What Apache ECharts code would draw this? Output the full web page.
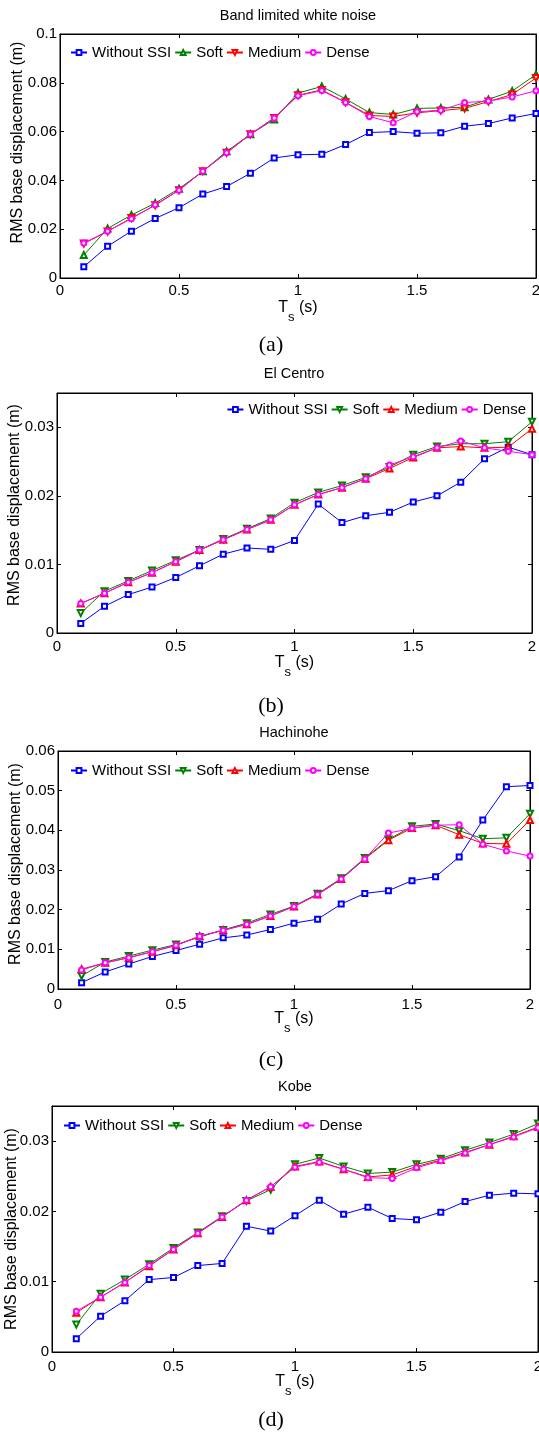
<!DOCTYPE html>
<html>
<head>
<meta charset="utf-8">
<script src="https://cdn.jsdelivr.net/npm/echarts@6/dist/echarts.min.js"></script>
<style>
html,body{margin:0;padding:0;background:#fff;}
#chart{width:539px;height:1436px;}
</style>
</head>
<body>
<div id="chart"></div>
<script>
// ---- data ----
const periods = [0.1,0.2,0.3,0.4,0.5,0.6,0.7,0.8,0.9,1.0,1.1,1.2,1.3,1.4,1.5,1.6,1.7,1.8,1.9,2.0];
const seriesNames = ['Without SSI','Soft','Medium','Dense'];
const panelTitles = ['Band limited white noise','El Centro','Hachinohe','Kobe'];
const panelLabels = ['(a)','(b)','(c)','(d)'];
const xTicks = [0,0.5,1,1.5,2];

const A_blue   = [0.0046,0.0130,0.0192,0.0244,0.0288,0.0344,0.0375,0.0429,0.0492,0.0505,0.0507,0.0547,0.0596,0.0600,0.0593,0.0595,0.0622,0.0633,0.0656,0.0674];
const A_soft   = [0.0094,0.0203,0.0258,0.0307,0.0366,0.0437,0.0519,0.0589,0.0650,0.0758,0.0785,0.0734,0.0678,0.0670,0.0695,0.0697,0.0700,0.0732,0.0766,0.0834];
const A_medium = [0.0141,0.0191,0.0246,0.0298,0.0360,0.0438,0.0513,0.0589,0.0656,0.0749,0.0771,0.0720,0.0666,0.0662,0.0677,0.0686,0.0695,0.0723,0.0752,0.0820];
const A_dense  = [0.0143,0.0192,0.0243,0.0300,0.0360,0.0438,0.0513,0.0589,0.0656,0.0747,0.0768,0.0719,0.0662,0.0636,0.0681,0.0688,0.0719,0.0725,0.0742,0.0767];

const B_blue   = [0.0014,0.0039,0.0056,0.0067,0.0081,0.0098,0.0115,0.0124,0.0122,0.0135,0.0188,0.0161,0.0171,0.0176,0.0191,0.0200,0.0220,0.0254,0.0271,0.0260];
const B_soft   = [0.0029,0.0061,0.0076,0.0091,0.0106,0.0121,0.0137,0.0152,0.0167,0.0190,0.0205,0.0215,0.0227,0.0242,0.0260,0.0272,0.0276,0.0276,0.0279,0.0308];
const B_medium = [0.0043,0.0058,0.0074,0.0088,0.0104,0.0121,0.0136,0.0151,0.0165,0.0187,0.0202,0.0212,0.0225,0.0240,0.0256,0.0270,0.0272,0.0270,0.0271,0.0298];
const B_dense  = [0.0043,0.0058,0.0074,0.0088,0.0104,0.0121,0.0136,0.0151,0.0165,0.0187,0.0202,0.0212,0.0225,0.0245,0.0257,0.0270,0.0280,0.0270,0.0265,0.0260];

const C_blue   = [0.0016,0.0043,0.0063,0.0082,0.0097,0.0113,0.0129,0.0136,0.0150,0.0166,0.0176,0.0214,0.0241,0.0248,0.0273,0.0283,0.0333,0.0426,0.0510,0.0513];
const C_soft   = [0.0033,0.0068,0.0083,0.0098,0.0112,0.0131,0.0149,0.0166,0.0188,0.0209,0.0240,0.0279,0.0330,0.0377,0.0410,0.0416,0.0399,0.0379,0.0381,0.0442];
const C_medium = [0.0050,0.0066,0.0079,0.0094,0.0110,0.0133,0.0148,0.0163,0.0184,0.0208,0.0238,0.0277,0.0328,0.0375,0.0406,0.0413,0.0389,0.0367,0.0366,0.0426];
const C_dense  = [0.0048,0.0066,0.0079,0.0094,0.0110,0.0133,0.0148,0.0163,0.0184,0.0208,0.0238,0.0277,0.0328,0.0393,0.0405,0.0413,0.0414,0.0365,0.0348,0.0335];

const D_blue   = [0.0019,0.0051,0.0073,0.0103,0.0106,0.0123,0.0126,0.0179,0.0172,0.0194,0.0216,0.0196,0.0206,0.0190,0.0188,0.0199,0.0214,0.0223,0.0226,0.0225];
const D_soft   = [0.0039,0.0083,0.0103,0.0125,0.0148,0.0170,0.0193,0.0215,0.0231,0.0267,0.0276,0.0264,0.0254,0.0256,0.0267,0.0275,0.0287,0.0298,0.0310,0.0325];
const D_medium = [0.0056,0.0078,0.0099,0.0122,0.0146,0.0169,0.0192,0.0216,0.0235,0.0264,0.0271,0.0260,0.0249,0.0252,0.0264,0.0273,0.0284,0.0295,0.0307,0.0320];
const D_dense  = [0.0058,0.0078,0.0099,0.0123,0.0146,0.0169,0.0192,0.0216,0.0235,0.0263,0.0270,0.0260,0.0248,0.0247,0.0262,0.0272,0.0283,0.0295,0.0306,0.0319];

const yMaxes = [0.1, 0.035, 0.06, 0.035];
const yIntervals = [0.02, 0.01, 0.01, 0.01];

// ---- layout / style ----
const FONT = '"Liberation Sans", Arial, sans-serif';
const colors = ['#0000ff', '#008000', '#ff0000', '#ff00ff'];
const panels = [
  {data:[A_blue,A_soft,A_medium,A_dense], softUp:true,  grid:{left:60, top:34, width:476, height:244},
   legend:{left:70, top:45}, title:[298,16], lab:[271,345], lm:5, shift:27, ygap:34},
  {data:[B_blue,B_soft,B_medium,B_dense], softUp:false, grid:{left:57, top:393, width:475, height:240},
   legend:{right:13, top:402}, title:[294,374], lab:[271,706], lm:6, shift:16, ygap:34},
  {data:[C_blue,C_soft,C_medium,C_dense], softUp:false, grid:{left:58, top:751, width:472, height:238},
   legend:{left:70, top:763}, title:[294,733], lab:[271,1060], lm:8, shift:12, ygap:34},
  {data:[D_blue,D_soft,D_medium,D_dense], softUp:false, grid:{left:52, top:1106, width:486, height:246},
   legend:{left:63, top:1118}, title:[295,1087], lab:[271,1420], lm:7.5, shift:0, ygap:32}
];

const grids = [], xAxes = [], yAxes = [], series = [], legends = [], graphics = [];
const fmt = v => String(parseFloat(v.toFixed(4)));

panels.forEach((p, i) => {
  const key = 'abcd'[i];
  grids.push(Object.assign({show:true, borderColor:'#000', borderWidth:1, backgroundColor:'#fff', outerBoundsMode:'none'}, p.grid));
  const xBase = {type:'value', gridIndex:i, min:0, max:2, interval:0.5,
    axisLine:{show:true, onZero:false, lineStyle:{color:'#000', width:1}},
    axisTick:{show:true, inside:true, length:4, lineStyle:{color:'#000'}},
    splitLine:{show:false}, nameMoveOverlap:false};
  xAxes.push(Object.assign({}, xBase, {position:'bottom',
    axisLabel:{show:true, margin:p.lm, fontSize:15, color:'#000', fontFamily:FONT,
      showMinLabel:true, showMaxLabel:true, alignMinLabel:'center', alignMaxLabel:'center', hideOverlap:false},
    name:'{t|T}{s|s}{t| (s)}', nameLocation:'middle', nameGap:22,
    nameTextStyle:{rich:{
      t:{fontSize:16, color:'#000', fontFamily:FONT, verticalAlign:'top', lineHeight:24},
      s:{fontSize:13, color:'#000', fontFamily:FONT, verticalAlign:'bottom', lineHeight:24}
    }}}));
  xAxes.push(Object.assign({}, xBase, {position:'top', axisLabel:{show:false}}));
  const yBase = {type:'value', gridIndex:i, min:0, max:yMaxes[i], interval:yIntervals[i],
    axisLine:{show:true, onZero:false, lineStyle:{color:'#000', width:1}},
    axisTick:{show:true, inside:true, length:4, lineStyle:{color:'#000'}},
    splitLine:{show:false}, nameMoveOverlap:false};
  const ratio = yMaxes[i] / yIntervals[i];
  yAxes.push(Object.assign({}, yBase, {position:'left',
    axisLabel:{show:true, margin:3, fontSize:15, color:'#000', fontFamily:FONT, formatter:fmt,
      showMinLabel:true, showMaxLabel: Math.abs(ratio - Math.round(ratio)) < 1e-6, hideOverlap:false},
    name:'RMS base displacement (m)', nameLocation:'middle', nameGap:p.ygap,
    nameTextStyle:{fontSize:16, color:'#000', fontFamily:FONT, padding:[0,0,0,p.shift]}}));
  yAxes.push(Object.assign({}, yBase, {position:'right', axisLabel:{show:false}}));

  const symbols = ['emptyRect','emptyTriangle','emptyTriangle','emptyCircle'];
  const rotates = [0, p.softUp ? 0 : 180, p.softUp ? 180 : 0, 0];
  const sizes = [5, 6, 6, 5];
  seriesNames.forEach((nm, k) => {
    series.push({
      type:'line', name: key + ':' + nm, xAxisIndex:2*i, yAxisIndex:2*i,
      data: periods.map((t, j) => [t, p.data[k][j]]),
      symbol: symbols[k], symbolRotate: rotates[k], symbolSize: sizes[k], showSymbol:true,
      lineStyle:{color:colors[k], width:1}, itemStyle:{color:colors[k], borderWidth:1},
      emphasis:{disabled:true}, animation:false, clip:false, z: 2 + k
    });
  });
  legends.push(Object.assign({
    data: seriesNames.map(nm => key + ':' + nm),
    orient:'horizontal', itemWidth:16, itemHeight:6, itemGap:3, padding:0,
    formatter: n => n.slice(2),
    textStyle:{fontSize:15, color:'#000', fontFamily:FONT},
    selectedMode:false, backgroundColor:'transparent'
  }, p.legend));
  graphics.push({type:'text', x:p.title[0], y:p.title[1], style:{text:panelTitles[i], font:'14.5px ' + FONT, fill:'#000', align:'center', verticalAlign:'middle'}});
  graphics.push({type:'text', x:p.lab[0], y:p.lab[1], style:{text:panelLabels[i], font:'22px "Liberation Serif", "Times New Roman", serif', fill:'#000', align:'center', verticalAlign:'middle'}});
});

const chart = echarts.init(document.getElementById('chart'), null, {renderer:'canvas'});
chart.setOption({
  backgroundColor:'#fff',
  animation:false,
  grid: grids, xAxis: xAxes, yAxis: yAxes, series: series, legend: legends, graphic: graphics
});
</script>
</body>
</html>
